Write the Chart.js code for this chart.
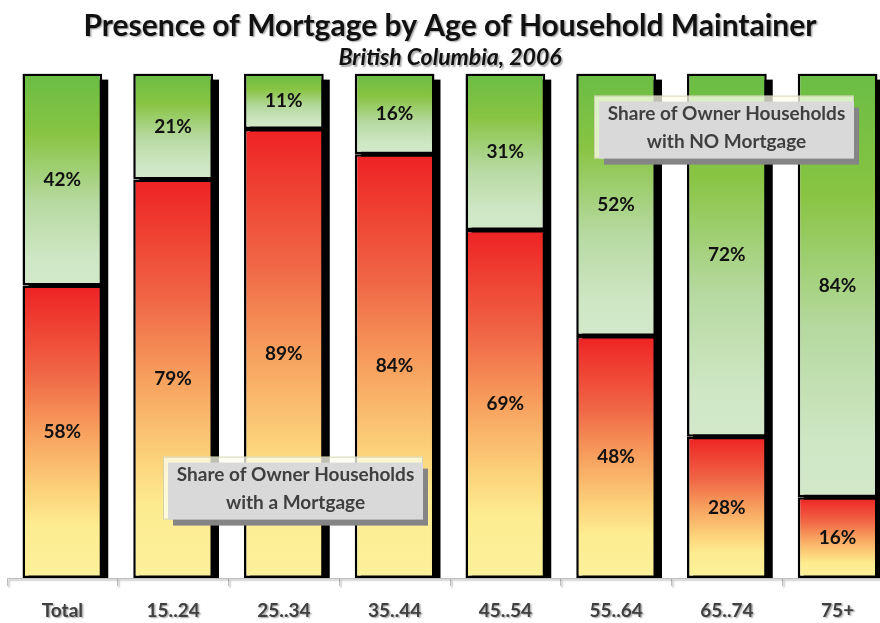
<!DOCTYPE html>
<html>
<head>
<meta charset="utf-8">
<script src="https://cdn.jsdelivr.net/npm/chart.js@4.4.1/dist/chart.umd.min.js"></script>
<style>
  html, body { margin: 0; padding: 0; background: #fff; overflow: hidden; }
  #c { display: block; background: #fff; }
</style>
</head>
<body>
<canvas id="c" width="895" height="623"></canvas>
<script>
const categories = ['Total', '15..24', '25..34', '35..44', '45..54', '55..64', '65..74', '75+'];
const withMortgage = [58, 79, 89, 84, 69, 48, 28, 16];
const noMortgage   = [42, 21, 11, 16, 31, 52, 72, 84];
const titleText = 'Presence of Mortgage by Age of Household Maintainer';
const subtitleText = 'British Columbia, 2006';
const noteMortgage = ['Share of Owner Households', 'with a Mortgage'];
const noteNoMortgage = ['Share of Owner Households', 'with NO Mortgage'];

const FONT = 'Lato, "Open Sans", sans-serif';

function segBounds(chart, dsIndex, i) {
  const y = chart.scales.y;
  if (dsIndex === 0) {
    return [y.getPixelForValue(withMortgage[i]), y.getPixelForValue(0)];
  }
  return [y.getPixelForValue(withMortgage[i] + noMortgage[i]), y.getPixelForValue(withMortgage[i])];
}

function redGradient(ctx) {
  const chart = ctx.chart;
  if (!chart.chartArea || ctx.type !== 'data') return '#f4844e';
  const [top, bottom] = segBounds(chart, 0, ctx.dataIndex);
  const g = chart.ctx.createLinearGradient(0, top, 0, bottom);
  g.addColorStop(0, '#ee2224');
  g.addColorStop(0.3, '#f06645');
  g.addColorStop(0.5, '#f7a05e');
  g.addColorStop(0.7, '#fcd27a');
  g.addColorStop(0.82, '#fdec90');
  g.addColorStop(1, '#fbf19b');
  return g;
}
function greenGradient(ctx) {
  const chart = ctx.chart;
  if (!chart.chartArea || ctx.type !== 'data') return '#9ccf7e';
  const [top, bottom] = segBounds(chart, 1, ctx.dataIndex);
  const g = chart.ctx.createLinearGradient(0, top, 0, bottom);
  g.addColorStop(0, '#6abd45');
  g.addColorStop(0.28, '#88c442');
  g.addColorStop(0.6, '#b5d99f');
  g.addColorStop(0.88, '#d0e7c6');
  g.addColorStop(1, '#d2e8c9');
  return g;
}

const textShadowPlugin = {
  id: 'textShadow',
  beforeDraw(chart) {
    const c = chart.ctx;
    c.shadowColor = 'rgba(0,0,0,0.35)';
    c.shadowOffsetX = 1.5;
    c.shadowOffsetY = 1.5;
    c.shadowBlur = 1.5;
  },
  beforeDatasetsDraw(chart) {
    const c = chart.ctx;
    c.shadowColor = 'transparent';
    c.shadowOffsetX = 0;
    c.shadowOffsetY = 0;
    c.shadowBlur = 0;
    // black drop shadow behind each stacked bar
    const m1 = chart.getDatasetMeta(1);
    const base = chart.scales.y.getPixelForValue(0);
    c.save();
    c.fillStyle = '#000';
    m1.data.forEach((el) => {
      const w = el.width;
      const left = el.x - w / 2 + 6;
      const top = el.y + 6;
      c.fillRect(left, top, w, base - top);
    });
    c.restore();
  }
};

function drawNote(c, x, y, w, h, lines) {
  c.save();
  c.fillStyle = 'rgba(255,255,240,0.75)';
  c.fillRect(x, y, w, h);
  c.strokeStyle = 'rgba(200,200,160,0.8)';
  c.lineWidth = 1;
  c.strokeRect(x + 0.5, y + 0.5, w - 1, h - 1);
  c.fillStyle = '#858585';
  c.fillRect(x + 10, y + 12, w - 5, h - 6);
  c.fillStyle = '#d9d9d9';
  c.fillRect(x + 5, y + 6, w - 5, h - 6);
  c.fillStyle = '#3f3f3f';
  c.font = 'bold 19px ' + FONT;
  c.textAlign = 'center';
  c.textBaseline = 'middle';
  const cx = x + 5 + (w - 5) / 2;
  c.fillText(lines[0], cx, y + 18);
  c.fillText(lines[1], cx, y + 46);
  c.restore();
}

const labelsPlugin = {
  id: 'segLabels',
  afterDatasetsDraw(chart) {
    const c = chart.ctx;
    c.save();
    c.font = 'bold 19px ' + FONT;
    c.fillStyle = '#111';
    c.textAlign = 'center';
    c.textBaseline = 'middle';
    [withMortgage, noMortgage].forEach((arr, d) => {
      const meta = chart.getDatasetMeta(d);
      meta.data.forEach((el, i) => {
        const cy = (el.y + el.base) / 2;
        c.fillText(arr[i] + '%', el.x, cy);
      });
    });
    c.restore();
    const a = chart.chartArea;
    drawNote(c, a.left + 156, a.top + 383, 260, 63, noteMortgage);
    drawNote(c, a.left + 587, a.top + 22, 260, 63, noteNoMortgage);
  }
};

new Chart(document.getElementById('c'), {
  type: 'bar',
  data: {
    labels: categories,
    datasets: [
      {
        label: 'With Mortgage',
        data: withMortgage,
        backgroundColor: redGradient,
        borderColor: '#000',
        borderWidth: 2.5,
        borderSkipped: false
      },
      {
        label: 'No Mortgage',
        data: noMortgage,
        backgroundColor: greenGradient,
        borderColor: '#000',
        borderWidth: 2.5,
        borderSkipped: false
      }
    ]
  },
  options: {
    responsive: false,
    animation: false,
    events: [],
    layout: { padding: { left: 7, right: 2, top: 0, bottom: 0 } },
    datasets: {
      bar: { categoryPercentage: 1.0, barPercentage: 0.72 }
    },
    plugins: {
      legend: { display: false },
      tooltip: { enabled: false },
      title: {
        display: true,
        text: titleText,
        color: '#111',
        font: { family: FONT, size: 30, weight: 'bold' },
        padding: { top: 8, bottom: 0 }
      },
      subtitle: {
        display: true,
        text: subtitleText,
        color: '#111',
        font: { family: FONT, size: 23, weight: 'bold', style: 'italic' },
        padding: { top: 0, bottom: 2 }
      }
    },
    scales: {
      x: {
        stacked: true,
        afterFit(scale) { scale.height = 45; },
        grid: {
          display: true,
          drawOnChartArea: false,
          drawTicks: true,
          tickLength: 8,
          color: '#bfbfbf',
          offset: true
        },
        border: { display: true, color: '#bfbfbf', width: 1 },
        ticks: {
          color: '#404040',
          font: { family: FONT, size: 19, weight: 'bold' },
          padding: 13
        }
      },
      y: {
        stacked: true,
        display: false,
        min: 0,
        max: 100
      }
    }
  },
  plugins: [textShadowPlugin, labelsPlugin]
});
</script>
</body>
</html>
